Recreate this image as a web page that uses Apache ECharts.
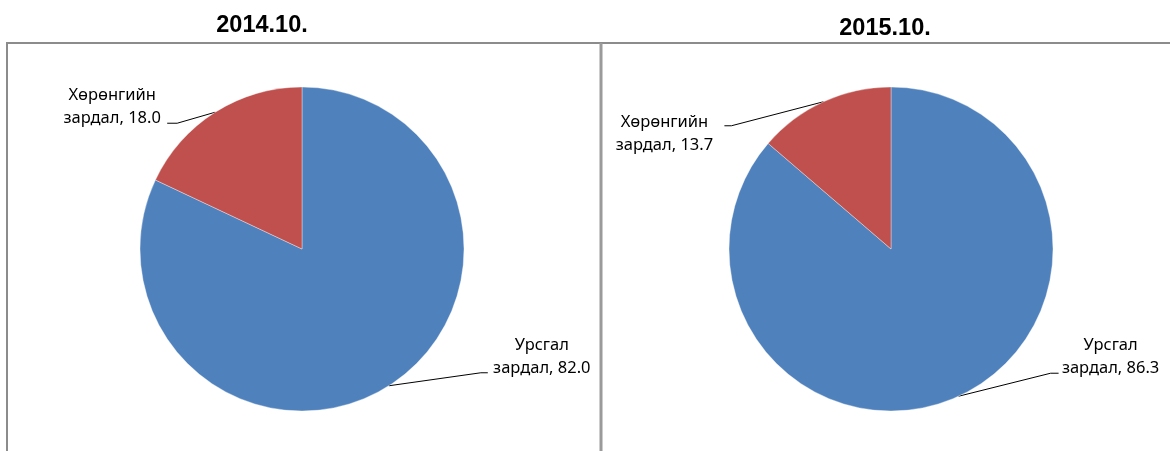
<!DOCTYPE html>
<html>
<head>
<meta charset="utf-8">
<script src="https://cdn.jsdelivr.net/npm/echarts@6/dist/echarts.min.js"></script>
<style>
html,body{margin:0;padding:0;background:#fff;}
#main{width:1170px;height:451px;}
</style>
</head>
<body>
<div id="main"></div>
<script>
// ---- data ----
const categories = ['Урсгал зардал', 'Хөрөнгийн зардал'];
const titles = ['2014.10.', '2015.10.'];
const values2014 = [82.0, 18.0];
const values2015 = [86.3, 13.7];

// ---- presentation ----
const colors = ['#4F81BD', '#C0504D'];
const centers = [[302, 249], [891, 249]];
const radius = 162;
// label offsets relative to the slice edge point: [labelX, labelY, p1x, p1y, p2x, p2y]
const labelOffsets = [
  [[153, -29, 92, -13, 99, -13], [-103, -5, -38, 11, -48, 11]],
  [[152, -39, 92, -23, 100, -23], [-159, 32, -92, 24, -99, 24]]
];

const chart = echarts.init(document.getElementById('main'), null, {renderer: 'canvas'});

function makeSeries(vals, idx) {
  return {
    type: 'pie',
    center: centers[idx],
    radius: radius,
    startAngle: 90,
    clockwise: true,
    animation: false,
    silent: true,
    data: categories.map((c, i) => ({
      name: c, value: vals[i],
      itemStyle: {color: colors[i], borderColor: 'rgba(255,255,255,0.6)', borderWidth: 0.6}
    })),
    label: {
      show: true,
      position: 'outside',
      alignTo: 'none',
      fontFamily: 'Noto Sans',
      fontSize: 16.5,
      color: '#000',
      lineHeight: 23,
      align: 'center',
      formatter: p => p.name.replace(' ', '\n') + ', ' + p.value.toFixed(1)
    },
    labelLine: {
      show: true,
      length: 20,
      length2: 10,
      lineStyle: {color: '#000', width: 1}
    },
    labelLayout: function (params) {
      const o = labelOffsets[idx][params.dataIndex];
      const e = params.labelLinePoints[0];
      return {
        x: e[0] + o[0],
        y: e[1] + o[1],
        align: 'center',
        verticalAlign: 'middle',
        labelLinePoints: [
          [e[0], e[1]],
          [e[0] + o[2], e[1] + o[3]],
          [e[0] + o[4], e[1] + o[5]]
        ]
      };
    }
  };
}

chart.setOption({
  backgroundColor: '#fff',
  animation: false,
  title: [
    {text: titles[0], left: 257, top: 9, textAlign: 'center',
     textStyle: {fontFamily: 'Liberation Sans', fontWeight: 'bold', fontSize: 23.5, color: '#000'}},
    {text: titles[1], left: 880, top: 12, textAlign: 'center',
     textStyle: {fontFamily: 'Liberation Sans', fontWeight: 'bold', fontSize: 23.5, color: '#000'}}
  ],
  graphic: [
    {type: 'line', shape: {x1: 6, y1: 43, x2: 1170, y2: 43}, style: {stroke: '#8c8c8c', lineWidth: 2}, silent: true},
    {type: 'line', shape: {x1: 7, y1: 43, x2: 7, y2: 451}, style: {stroke: '#8c8c8c', lineWidth: 2}, silent: true},
    {type: 'line', shape: {x1: 601, y1: 43, x2: 601, y2: 451}, style: {stroke: '#9a9a9a', lineWidth: 3}, silent: true}
  ],
  series: [makeSeries(values2014, 0), makeSeries(values2015, 1)]
});
</script>
</body>
</html>
